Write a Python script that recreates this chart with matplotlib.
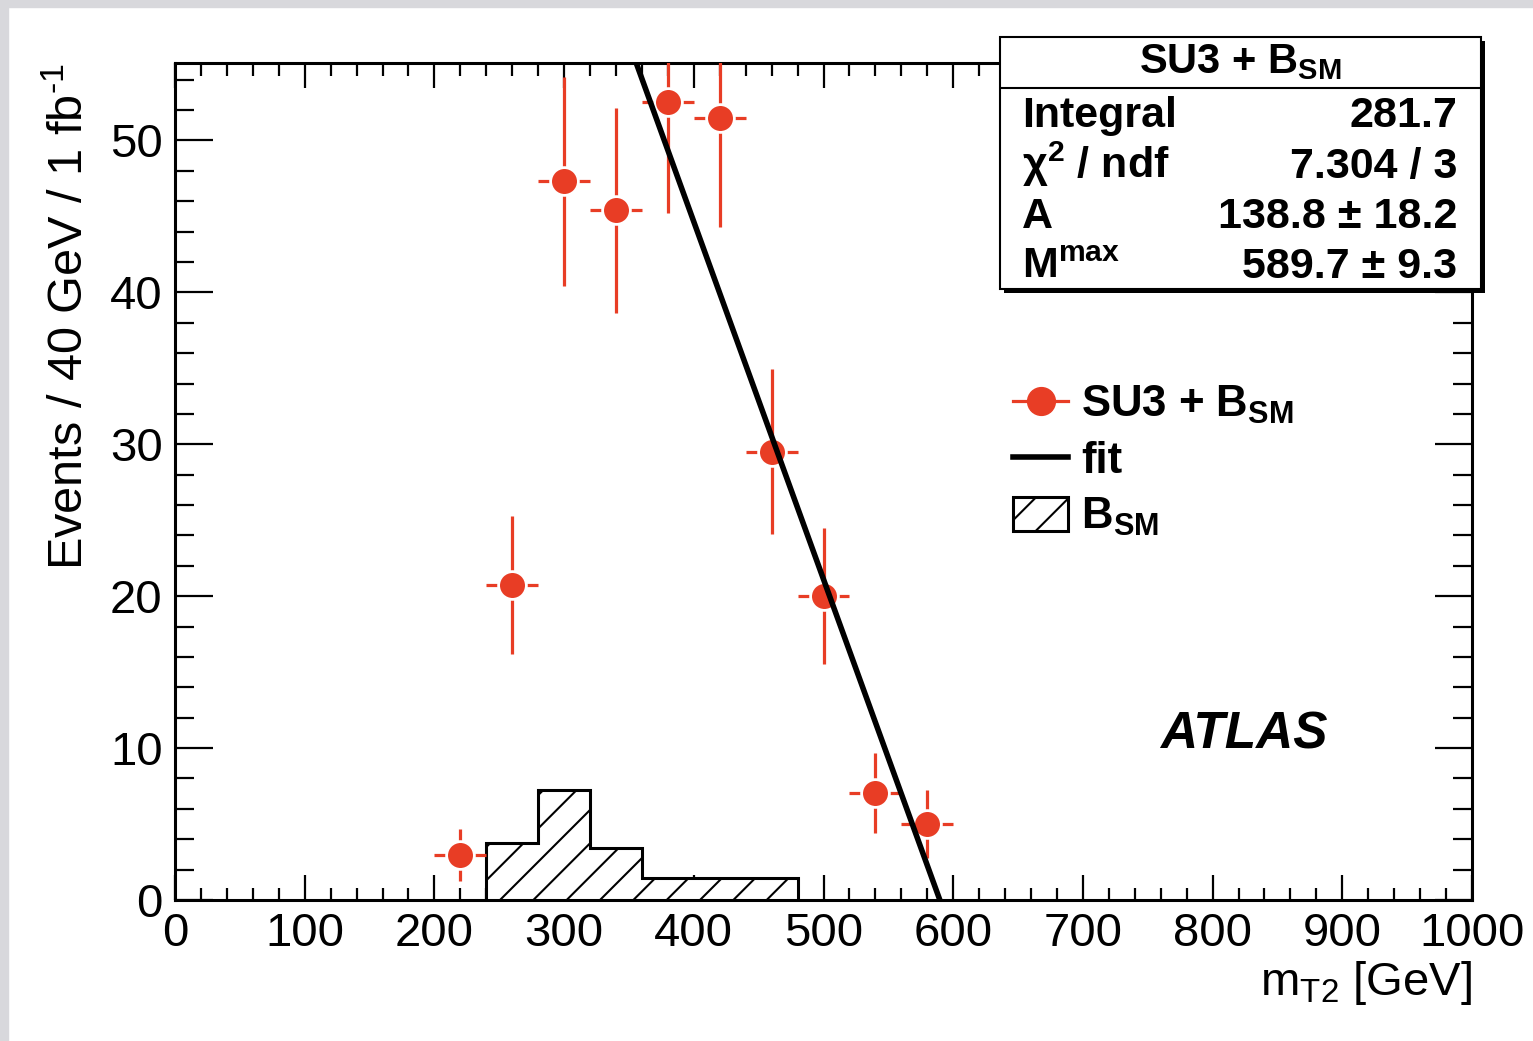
import matplotlib
matplotlib.use('Agg')
import matplotlib.pyplot as plt
import numpy as np
from matplotlib.lines import Line2D
from matplotlib.patches import Patch, Rectangle
from matplotlib.ticker import MultipleLocator

plt.rcParams['font.family'] = ['Liberation Sans', 'DejaVu Sans']
plt.rcParams['mathtext.fontset'] = 'custom'
plt.rcParams['mathtext.rm'] = 'Liberation Sans'
plt.rcParams['mathtext.it'] = 'Liberation Sans:italic'
plt.rcParams['mathtext.bf'] = 'Liberation Sans:bold'
plt.rcParams['hatch.linewidth'] = 1.5

# SU3 + B_SM data points (bin centres, events, errors)
mt2 = [220, 260, 300, 340, 380, 420, 460, 500, 540, 580]
events = [2.96, 20.75, 47.3, 45.4, 52.5, 51.5, 29.5, 20.0, 7.03, 4.98]
events_err = [1.72, 4.56, 6.88, 6.74, 7.25, 7.18, 5.43, 4.47, 2.65, 2.23]
bin_half = 20

# B_SM histogram
bsm_edges = [240, 280, 320, 360, 400, 440, 480]
bsm_values = [3.73, 7.25, 3.4, 1.48, 1.48, 1.48]

# fit parameters
fit_A = 138.8
fit_Mmax = 589.7

stat_labels = ['Integral', r'χ$^{\mathbf{2}}$ / ndf', 'A', r'M$^{\mathbf{max}}$']
stat_values = ['281.7', '7.304 / 3', '138.8 ± 18.2', '589.7 ± 9.3']

red = '#e83d25'
W, H = 1533, 1041

fig = plt.figure(figsize=(W / 100, H / 100), dpi=100)
fig.patches.append(Rectangle((0, 0), 8 / W, 1, transform=fig.transFigure,
                             color='#d8d8dc', zorder=0))
fig.patches.append(Rectangle((0, 1 - 7 / H), 1, 7 / H, transform=fig.transFigure,
                             color='#d8d8dc', zorder=0))

ax = fig.add_axes([175 / W, (H - 900) / H, 1297 / W, 837 / H])

ax.stairs(bsm_values, bsm_edges, fill=True, facecolor='white', edgecolor='black',
          hatch='/', linewidth=2.2, zorder=2)
ax.errorbar(mt2, events, yerr=events_err, xerr=bin_half, fmt='o', color=red,
            ms=20, mec='white', mew=2, elinewidth=2.3, capsize=0, zorder=3)
xf = np.linspace(0, fit_Mmax, 300)
ax.plot(xf, fit_A * (1 - xf / fit_Mmax), color='black', lw=4, zorder=4)

ax.set_xlim(0, 1000)
ax.set_ylim(0, 55.1)
ax.xaxis.set_major_locator(MultipleLocator(100))
ax.xaxis.set_minor_locator(MultipleLocator(20))
ax.yaxis.set_major_locator(MultipleLocator(10))
ax.yaxis.set_minor_locator(MultipleLocator(2))
ax.tick_params(which='both', direction='in', top=True, right=True, labelsize=34,
               width=1.6, pad=9)
ax.tick_params(axis='x', which='major', length=18)
ax.tick_params(axis='x', which='minor', length=9)
ax.tick_params(axis='y', which='major', length=27)
ax.tick_params(axis='y', which='minor', length=13.5)
for s in ax.spines.values():
    s.set_linewidth(2.2)

ax.set_ylabel(r'Events / 40 GeV / 1 fb$^{\text{-1}}$', fontsize=35, loc='top', labelpad=12)
ax.set_xlabel(r'm$_{\mathrm{T2}}$ [GeV]', fontsize=34, loc='right', labelpad=2)

ax.text(0.7595, 0.197, 'ATLAS', transform=ax.transAxes, fontsize=37,
        fontweight='bold', fontstyle='italic', ha='left', va='center')

handles = [Line2D([], [], color=red, marker='o', ms=20, lw=2.3),
           Line2D([], [], color='black', lw=4),
           Patch(facecolor='white', edgecolor='black', hatch='/', lw=2.2)]
labels = [r'SU3 + B$_{\mathbf{SM}}$', 'fit', r'B$_{\mathbf{SM}}$']
ax.legend(handles, labels, loc='upper left', bbox_to_anchor=(1013 / W, (H - 384) / H),
          bbox_transform=fig.transFigure, frameon=False, prop={'weight': 'bold', 'size': 31.5},
          handlelength=1.26, handleheight=0.82, handletextpad=0.3, labelspacing=0.33,
          borderpad=0, borderaxespad=0)

# stats box
bx0, bx1, by0, by1 = 1000, 1481, 37, 289
sax = fig.add_axes([bx0 / W, (H - by1) / H, (bx1 - bx0) / W, (by1 - by0) / H])
sax.set_xlim(0, 1)
sax.set_ylim(0, 1)
sax.set_axis_off()
bw, bh = bx1 - bx0, by1 - by0
sax.add_patch(Rectangle((4 / bw, -4 / bh), 1, 1, facecolor='black', edgecolor='black',
                        lw=0, clip_on=False, zorder=1))
sax.add_patch(Rectangle((0, 0), 1, 1, facecolor='white', edgecolor='black',
                        lw=1.5, clip_on=False, zorder=2))
sax.plot([0, 1], [(by1 - 88) / bh] * 2, color='black', lw=1.5, zorder=3)
sax.text(0.5, (by1 - 73) / bh, r'SU3 + B$_{\mathbf{SM}}$', fontsize=30, fontweight='bold',
         ha='center', va='baseline', zorder=4)
row_base = [127, 178, 228, 278]
for lab, val, yb in zip(stat_labels, stat_values, row_base):
    sax.text(22 / bw, (by1 - yb) / bh, lab, fontsize=31, fontweight='bold',
             ha='left', va='baseline', zorder=4)
    sax.text(457 / bw, (by1 - yb) / bh, val, fontsize=31, fontweight='bold',
             ha='right', va='baseline', zorder=4)

fig.savefig('out.png', dpi=100)
